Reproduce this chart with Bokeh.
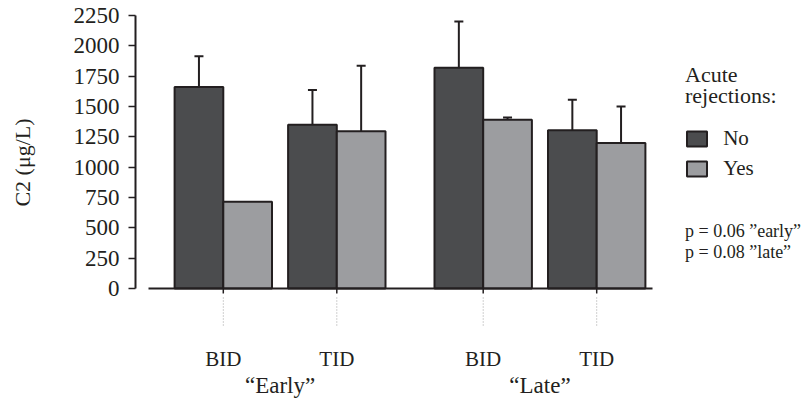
from bokeh.plotting import figure
from bokeh.layouts import row
from bokeh.models import (ColumnDataSource, FactorRange, Range1d, FixedTicker,
                          Whisker, TeeHead, Label, Legend, LegendItem)
from bokeh.transform import dodge
from bokeh.core.properties import value
from bokeh.embed import file_html
from bokeh.resources import INLINE

# ---------------- data ----------------
periods = ["\u201cEarly\u201d", "\u201cLate\u201d"]
regimens = ["BID", "TID"]
series = ["No", "Yes"]
no_mean = [1660, 1350, 1820, 1305]
yes_mean = [715, 1295, 1390, 1200]
no_upper = [1915, 1635, 2200, 1555]
yes_upper = [None, 1835, 1410, 1500]
y_ticks = [0, 250, 500, 750, 1000, 1250, 1500, 1750, 2000, 2250]
y_title = "C2 (\u03bcg/L)"
legend_title = ["Acute", "rejections:"]
p_notes = ["p = 0.06 \u201dearly\u201d", "p = 0.08 \u201dlate\u201d"]

# ---------------- layout / style ----------------
INK = "#231f20"
DARK = "#4b4c4e"
LIGHT = "#9c9da0"
FONT = "Liberation Serif"

W, H = 805, 401
LW = 45                            # left strip (y title)
FL, FR, FT, FB = 135, 684, 15, 401  # main plot frame, in page pixels
RW = W - FR                        # right strip (legend, notes)
ZERO = 288
YMAX = y_ticks[-1]
DPP = YMAX / (ZERO - FT)           # data units per pixel (vertical)
y_lo = -(FB - ZERO) * DPP

UNIT = 100.0                       # pixels per factor unit
FP = 0.135
GP = 0.464
BW = 0.487
n_f = len(periods) * len(regimens)
span = n_f + len(periods) * (len(regimens) - 1) * FP + (len(periods) - 1) * GP
pad_half = ((FR - FL) / UNIT - span) / 2
RP = 2 * pad_half / span


def px_to_x(px):
    return (px - FL) / UNIT - pad_half


def blank(width):
    f = figure(width=width, height=H, x_range=Range1d(0, 1), y_range=Range1d(0, 1),
               output_backend="svg", toolbar_location=None,
               x_axis_location=None, y_axis_location=None,
               min_border_left=0, min_border_right=0, min_border_top=0,
               min_border_bottom=0, title=None)
    f.outline_line_color = None
    f.grid.visible = False
    f.background_fill_color = "white"
    f.border_fill_color = "white"
    return f


factors = [(a, b) for a in periods for b in regimens]

p = figure(width=FR - LW, height=H,
           x_range=FactorRange(*factors, factor_padding=FP, group_padding=GP,
                               range_padding=RP, range_padding_units="percent"),
           y_range=Range1d(y_lo, YMAX),
           output_backend="svg", toolbar_location=None, x_axis_location=None,
           min_border_left=FL - LW, min_border_right=0,
           min_border_top=FT, min_border_bottom=H - FB, title=None)
p.outline_line_color = None
p.grid.visible = False
p.background_fill_color = "white"
p.border_fill_color = "white"

# bars
src = ColumnDataSource(dict(x=factors, no=no_mean, yes=yes_mean))
r_no = p.vbar(x=dodge("x", -BW / 2, range=p.x_range), top="no", width=BW, source=src,
              fill_color=DARK, line_color=INK, line_width=2)
r_yes = p.vbar(x=dodge("x", BW / 2, range=p.x_range), top="yes", width=BW, source=src,
               fill_color=LIGHT, line_color=INK, line_width=2)

# error bars (upper only)
for means, uppers, off in [(no_mean, no_upper, -BW / 2), (yes_mean, yes_upper, BW / 2)]:
    rows = [(f, m, u) for f, m, u in zip(factors, means, uppers) if u is not None]
    wsrc = ColumnDataSource(dict(x=[r[0] for r in rows], lower=[r[1] for r in rows],
                                 upper=[r[2] for r in rows]))
    p.add_layout(Whisker(source=wsrc, base=dodge("x", off, range=p.x_range),
                         lower="lower", upper="upper", dimension="height",
                         line_color=INK, line_width=2, lower_head=None,
                         upper_head=TeeHead(size=9, line_color=INK, line_width=2)))

# x axis line (detached from the y axis)
p.segment(x0=[px_to_x(148)], y0=[0], x1=[px_to_x(652)], y1=[0], line_color=INK, line_width=2)

# category ticks and dotted leaders
tsrc = ColumnDataSource(dict(x=factors, lab=[b for _, b in factors]))
p.segment(x0="x", x1="x", y0=0, y1=-5 * DPP, source=tsrc, line_color=INK, line_width=1.5)
p.segment(x0="x", x1="x", y0=-9 * DPP, y1=-39 * DPP, source=tsrc,
          line_color="#a0a0a0", line_width=1, line_dash="1 2")

# category labels
p.text(x="x", y=0, text="lab", source=tsrc, y_offset=70,
       text_font=value(FONT), text_font_size="21px", text_color=INK,
       text_align="center", text_baseline="alphabetic")
gsrc = ColumnDataSource(dict(x=periods, lab=periods))
p.text(x="x", y=0, text="lab", source=gsrc, y_offset=97,
       text_font=value(FONT), text_font_size="23px", text_color=INK,
       text_align="center", text_baseline="alphabetic")

# y axis
ax = p.yaxis[0]
ax.ticker = FixedTicker(ticks=y_ticks)
ax.bounds = (0, YMAX)
ax.axis_line_color = INK
ax.axis_line_width = 2
ax.major_tick_line_color = INK
ax.major_tick_line_width = 1.5
ax.major_tick_out = 7
ax.major_tick_in = 0
ax.minor_tick_out = 0
ax.minor_tick_in = 0
ax.major_label_standoff = 9
ax.major_label_text_font = FONT
ax.major_label_text_font_size = "23px"
ax.major_label_text_color = INK

# left strip: y title
left = blank(LW)
left.add_layout(Label(x=22, y=H - 162, x_units="screen", y_units="screen",
                      text=y_title, angle=1.5707963267948966, text_align="center",
                      text_baseline="middle", text_font=FONT, text_font_size="22px",
                      text_color=INK))

# right strip: legend and notes (swatch renderers carry no drawable point)
right = blank(RW)
nan = float("nan")
sw = ColumnDataSource(dict(x=[nan], top=[nan]))
d_no = right.vbar(x="x", top="top", width=0.5, source=sw,
                  fill_color=DARK, line_color=INK, line_width=2)
d_yes = right.vbar(x="x", top="top", width=0.5, source=sw,
                   fill_color=LIGHT, line_color=INK, line_width=2)
legend = Legend(items=[LegendItem(label=series[0], renderers=[d_no]),
                       LegendItem(label=series[1], renderers=[d_yes])],
                location=(0.2, H - 181), orientation="vertical",
                border_line_color=None, background_fill_alpha=0, padding=0, margin=0,
                spacing=5, glyph_width=25, glyph_height=19, label_height=24,
                label_standoff=14, label_text_font=FONT, label_text_font_size="21px",
                label_text_color=INK)
right.add_layout(legend)

for txt, base in zip(legend_title, [74, 95]):
    right.add_layout(Label(x=0.5, y=H - base, x_units="screen", y_units="screen",
                           text=txt, text_align="left", text_baseline="alphabetic",
                           text_font=FONT, text_font_size="22px", text_color=INK))

for txt, base in zip(p_notes, [230, 251]):
    right.add_layout(Label(x=0.5, y=H - base, x_units="screen", y_units="screen",
                           text=txt, text_align="left", text_baseline="alphabetic",
                           text_font=FONT, text_font_size="18px", text_color=INK))

layout = row(left, p, right, spacing=0)
open("out.html", "w").write(file_html(layout, INLINE))
